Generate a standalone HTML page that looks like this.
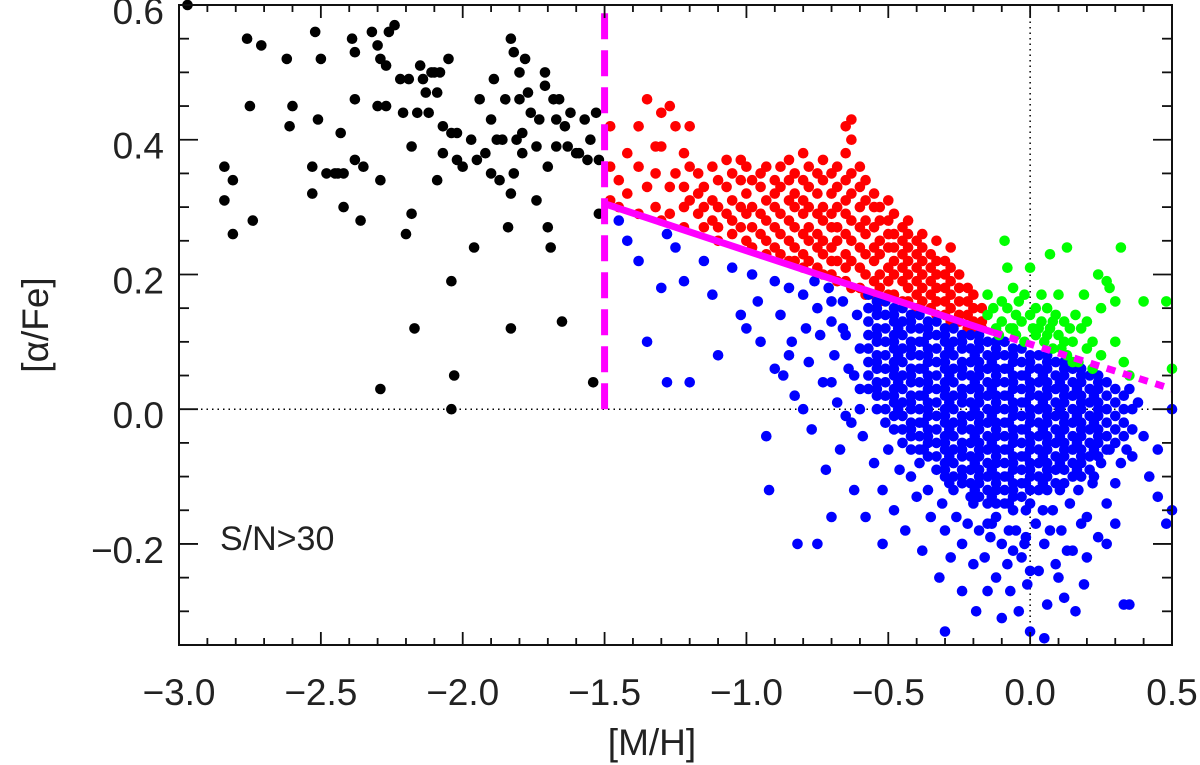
<!DOCTYPE html>
<html><head><meta charset="utf-8"><style>
html,body{margin:0;padding:0;background:#fff;}
svg{display:block;font-family:"Liberation Sans",sans-serif;}
</style></head><body>
<svg id="chart" width="1200" height="765" viewBox="0 0 1200 765" xmlns="http://www.w3.org/2000/svg">
<g id="grid"></g>
<g id="points"></g>
<g id="fit"></g>
<g id="axes"></g>
<text x="220" y="550" font-size="34" fill="#222">S/N&gt;30</text>
<text x="652" y="755" font-size="37" fill="#222" text-anchor="middle">[M/H]</text>
<text transform="translate(48,325) rotate(-90)" font-size="37" fill="#222" text-anchor="middle">[α/Fe]</text>
</svg>
<script>
const xTicks=[-3.0,-2.5,-2.0,-1.5,-1.0,-0.5,0.0,0.5];
const xTickLabels=["−3.0","−2.5","−2.0","−1.5","−1.0","−0.5","0.0","0.5"];
const yTicks=[-0.2,0.0,0.2,0.4,0.6];
const yTickLabels=["−0.2","0.0","0.2","0.4","0.6"];
const cutX=[-1.5,-1.5];
const cutY=[0.0,0.6];
const lineX=[-1.5,-0.13,0.5];
const lineY=[0.305,0.114,0.03];
const blackPts=[[-2.97,.60],[-2.84,.31],[-2.84,.36],[-2.81,.34],[-2.81,.26],[-2.76,.55],[-2.75,.45],[-2.74,.28],[-2.71,.54],[-2.62,.52],[-2.61,.42],[-2.6,.45],[-2.52,.56],[-2.53,.36],[-2.53,.32],[-2.51,.43],[-2.5,.52],[-2.48,.35],[-2.45,.35],[-2.44,.35],[-2.43,.41],[-2.42,.30],[-2.42,.35],[-2.39,.55],[-2.38,.53],[-2.38,.46],[-2.38,.37],[-2.36,.28],[-2.35,.36],[-2.32,.56],[-2.3,.54],[-2.29,.52],[-2.3,.45],[-2.29,.34],[-2.29,.03],[-2.27,.51],[-2.27,.45],[-2.26,.56],[-2.24,.57],[-2.22,.49],[-2.21,.44],[-2.2,.26],[-2.19,.49],[-2.18,.39],[-2.18,.29],[-2.17,.12],[-2.16,.44],[-2.15,.51],[-2.14,.49],[-2.13,.47],[-2.12,.44],[-2.11,.50],[-2.1,.5],[-2.09,.47],[-2.09,.34],[-2.08,.5],[-2.07,.42],[-2.07,.38],[-2.05,.52],[-2.04,.41],[-2.04,.19],[-2.03,.05],[-2.04,0.0],[-2.02,.41],[-2.02,.37],[-2.0,.36],[-1.97,.40],[-1.96,.24],[-1.95,.37],[-1.94,.46],[-1.92,.38],[-1.9,.43],[-1.9,.35],[-1.89,.49],[-1.88,.4],[-1.87,.34],[-1.86,.4],[-1.85,.46],[-1.84,.27],[-1.83,.55],[-1.83,.12],[-1.83,.32],[-1.82,.53],[-1.82,.35],[-1.81,.4],[-1.80,.5],[-1.8,.46],[-1.79,.38],[-1.79,.41],[-1.78,.52],[-1.77,.47],[-1.76,.44],[-1.74,.39],[-1.74,.31],[-1.73,.43],[-1.71,.48],[-1.71,.50],[-1.70,.27],[-1.69,.24],[-1.7,.36],[-1.68,.46],[-1.67,.43],[-1.67,.39],[-1.66,.46],[-1.65,.13],[-1.64,.42],[-1.63,.39],[-1.62,.44],[-1.6,.38],[-1.59,.38],[-1.57,.43],[-1.56,.37],[-1.55,.4],[-1.54,.04],[-1.53,.44],[-1.52,.37],[-1.52,.29]];
const redCols=[[-1.48,[.42,.36,.31]],[-1.45,[.34,.30]],[-1.42,[.38,.32]],[-1.38,[.42,.36,.29]],[-1.35,[.46,.33]],[-1.32,[.39,.35,.30]],[-1.30,[.39,.44,.28]],[-1.27,[.45,.33,.29]],[-1.25,[.42,.35]],[-1.22,[.38,.33,.30,.27]],[-1.2,[.42,.36,.31]],[-1.17,[.35,.32,.29]],[-1.15,[.33,.30,.27]],[-1.12,[.36,.31,.28]],[-1.1,[.34,.30,.27,.25]],[-1.07,[.37,.33,.29]],[-1.05,[.35,.31,.28,.26]],[-1.02,[.37,.34,.30,.27]],[-1.0,[.36,.32,.29,.25]],[-0.98,[.34,.30,.27,.24]],[-0.95,[.35,.33,.29,.26]],[-0.93,[.36,.31,.28,.25,.23]],[-0.9,[.34,.32,.30,.27,.24]],[-0.88,[.36,.33,.29,.26,.23]],[-0.85,[.37,.34,.31,.28,.25,.22]],[-0.83,[.35,.32,.30,.27,.24,.22]],[-0.8,[.38,.34,.31,.29,.26,.23,.21]],[-0.78,[.36,.33,.30,.27,.25,.22]],[-0.75,[.35,.32,.29,.26,.24,.21]],[-0.73,[.37,.34,.30,.28,.25,.23,.20]],[-0.7,[.35,.32,.29,.27,.24,.22,.20]],[-0.68,[.36,.33,.30,.27,.25,.22,.19]],[-0.65,[.42,.38,.34,.31,.29,.26,.23,.21,.19]],[-0.63,[.43,.40,.35,.32,.28,.25,.22,.18]],[-0.6,[.36,.33,.30,.27,.24,.21,.18]],[-0.58,[.34,.31,.28,.26,.23,.20,.17]],[-0.55,[.32,.30,.27,.24,.22,.19,.17]],[-0.53,[.30,.28,.25,.23,.20,.18,.16]],[-0.5,[.31,.28,.26,.24,.21,.19,.17]],[-0.48,[.29,.26,.24,.22,.20,.17]],[-0.45,[.27,.25,.23,.21,.19,.16]],[-0.43,[.28,.26,.24,.22,.20,.18,.16]],[-0.4,[.25,.23,.21,.19,.17,.15]],[-0.38,[.26,.24,.22,.20,.18,.16]],[-0.35,[.23,.21,.19,.17,.15]],[-0.33,[.25,.22,.20,.18,.16,.14]],[-0.3,[.22,.20,.18,.16,.14]],[-0.28,[.24,.21,.19,.17,.15,.13]],[-0.25,[.20,.18,.16,.14,.13]],[-0.22,[.18,.16,.14,.12]],[-0.2,[.17,.15,.13,.12]],[-0.17,[.15,.13,.12]]];
const greenPts=[[-0.15,.17],[-0.15,.14],[-0.13,.15],[-0.12,.12],[-0.1,.16],[-0.1,.13],[-0.09,.25],[-0.08,.21],[-0.08,.15],[-0.07,.12],[-0.06,.18],[-0.05,.14],[-0.05,.11],[-0.03,.13],[-0.02,.10],[0,.21],[0,.14],[0.01,.12],[0.02,.15],[0.02,.11],[0.04,.13],[0.05,.10],[0.06,.15],[0.07,.12],[0.07,.23],[0.08,.09],[0.09,.14],[0.1,.11],[0.1,.17],[0.12,.13],[0.13,.08],[0.13,.24],[0.15,.10],[0.16,.14],[0.17,.07],[0.18,.12],[0.19,.17],[0.2,.09],[0.22,.06],[0.24,.20],[0.25,.15],[0.27,.19],[0.28,.18],[0.3,.10],[0.3,.16],[0.32,.24],[0.33,.07],[0.35,.05],[0.4,.16],[0.48,.16],[0.5,.06],[-0.02,.17],[0.04,.17],[0.12,.10],[-0.04,.16],[0.08,.13],[0.15,.07],[0.22,.10],[-0.11,.11],[0.03,.12],[0.11,.09],[0.06,.11],[-0.06,.12],[0.14,.12],[0.2,.13],[0.25,.08]];
const blueCols=[[-0.57,[.17,.15,.13,.11,.09,.07,.05,.03]],[-0.54,[.16,.14,.12,.10,.08,.06,.04,.02,0,.15,.11,.07,.03]],[-0.51,[.16,.14,.12,.10,.08,.06,.04,.02,0,-.02]],[-0.48,[.15,.13,.11,.09,.07,.05,.03,.01,-.01,-.03,.14,.10,.06,.02]],[-0.465,[.12,.08,.04,0]],[-0.45,[.15,.13,.11,.09,.07,.05,.03,.01,-.01,-.03,-.05]],[-0.42,[.14,.12,.10,.08,.06,.04,.02,0,-.02,-.04,-.06,.13,.09,.05,.01,-.03]],[-0.39,[.14,.12,.10,.08,.06,.04,.02,0,-.02,-.04,-.06,-.08]],[-0.375,[.10,.06,.02,-.02,-.06]],[-0.36,[.13,.11,.09,.07,.05,.03,.01,-.01,-.03,-.05,-.07,.12,.08,.04,0,-.04]],[-0.33,[.13,.11,.09,.07,.05,.03,.01,-.01,-.03,-.05,-.07,-.09]],[-0.30,[.12,.10,.08,.06,.04,.02,0,-.02,-.04,-.06,-.08,-.10,.11,.07,.03,-.01,-.05,-.09]],[-0.285,[.09,.05,.01,-.03,-.07,-.11]],[-0.27,[.12,.10,.08,.06,.04,.02,0,-.02,-.04,-.06,-.08,-.10,-.12]],[-0.24,[.11,.09,.07,.05,.03,.01,-.01,-.03,-.05,-.07,-.09,-.11,.10,.06,.02,-.02,-.06,-.10]],[-0.21,[.11,.09,.07,.05,.03,.01,-.01,-.03,-.05,-.07,-.09,-.11,-.13]],[-0.195,[.08,.04,0,-.04,-.08,-.12]],[-0.18,[.11,.09,.07,.05,.03,.01,-.01,-.03,-.05,-.07,-.09,-.11,-.13,.10,.06,.02,-.02,-.06,-.10]],[-0.15,[.10,.08,.06,.04,.02,0,-.02,-.04,-.06,-.08,-.10,-.12,-.14]],[-0.135,[.07,.03,-.01,-.05,-.09,-.13,-.17]],[-0.12,[.10,.08,.06,.04,.02,0,-.02,-.04,-.06,-.08,-.10,-.12,-.14,-.16,.09,.05,.01,-.03,-.07,-.11]],[-0.09,[.10,.08,.06,.04,.02,0,-.02,-.04,-.06,-.08,-.10,-.12,-.14]],[-0.075,[.06,.02,-.02,-.06,-.10,-.14,-.18]],[-0.06,[.09,.07,.05,.03,.01,-.01,-.03,-.05,-.07,-.09,-.11,-.13,-.15,.08,.04,0,-.04,-.08,-.12]],[-0.03,[.09,.07,.05,.03,.01,-.01,-.03,-.05,-.07,-.09,-.11,-.13]],[-0.015,[.05,.01,-.03,-.07,-.11,-.15,-.19]],[0.00,[.08,.06,.04,.02,0,-.02,-.04,-.06,-.08,-.10,-.12,-.14,.07,.03,-.01,-.05,-.09]],[0.03,[.08,.06,.04,.02,0,-.02,-.04,-.06,-.08,-.10,-.12]],[0.045,[.05,.01,-.03,-.07,-.11,-.15]],[0.06,[.08,.06,.04,.02,0,-.02,-.04,-.06,-.08,-.10,-.12,.07,.03,-.01,-.05,-.09]],[0.09,[.07,.05,.03,.01,-.01,-.03,-.05,-.07,-.09,-.11]],[0.105,[.04,0,-.04,-.08,-.12]],[0.12,[.07,.05,.03,.01,-.01,-.03,-.05,-.07,-.09,-.11,.06,.02,-.02,-.06]],[0.15,[.06,.04,.02,0,-.02,-.04,-.06,-.08,-.10]],[0.165,[.03,-.01,-.05,-.09]],[0.18,[.06,.04,.02,0,-.02,-.04,-.06,-.08,-.10,.05,.01,-.03,-.07]],[0.21,[.05,.03,.01,-.01,-.03,-.05,-.07,-.09]],[0.225,[.02,-.02,-.06,-.10]],[0.24,[.05,.03,.01,-.01,-.03,-.05,-.07,.04,0,-.04]],[0.27,[.04,.02,0,-.02,-.04,-.06]],[0.30,[.03,.01,-.01,-.03,-.05]],[0.33,[.02,0,-.02,-.04]]];
const bluePts=[[-1.45,.28],[-1.42,.25],[-1.38,.22],[-1.35,.10],[-1.3,.18],[-1.28,.26],[-1.25,.24],[-1.22,.19],[-1.28,.04],[-1.2,.04],[-1.15,.22],[-1.12,.17],[-1.1,.08],[-1.05,.21],[-1.02,.14],[-1.0,.12],[-0.98,.20],[-0.96,.16],[-0.95,.10],[-0.93,-.04],[-0.92,-.12],[-0.9,.19],[-0.88,.14],[-0.87,.05],[-0.85,.18],[-0.84,.10],[-0.83,.02],[-0.82,-.20],[-0.8,.17],[-0.79,.12],[-0.78,.07],[-0.77,-.03],[-0.76,.19],[-0.75,.15],[-0.74,.11],[-0.73,.04],[-0.72,-.09],[-0.71,.18],[-0.7,.13],[-0.69,.08],[-0.68,.01],[-0.67,-.06],[-0.66,.16],[-0.65,.11],[-0.64,.06],[-0.63,-.02],[-0.62,-.12],[-0.61,.14],[-0.6,.09],[-0.6,.03],[-0.59,-.04],[-0.58,-.16],[-0.55,-.08],[-0.52,-.20],[-0.52,-.12],[-0.5,-.06],[-0.48,-.15],[-0.46,-.09],[-0.44,-.18],[-0.42,-.10],[-0.4,-.13],[-0.38,-.21],[-0.36,-.12],[-0.35,-.16],[-0.32,-.25],[-0.31,-.14],[-0.3,-.18],[-0.28,-.22],[-0.26,-.16],[-0.24,-.2],[-0.24,-.27],[-0.22,-.17],[-0.2,-.23],[-0.19,-.3],[-0.18,-.18],[-0.16,-.22],[-0.15,-.27],[-0.14,-.19],[-0.12,-.25],[-0.1,-.2],[-0.1,-.31],[-0.08,-.23],[-0.07,-.27],[-0.05,-.18],[-0.04,-.3],[-0.03,-.22],[-0.01,-.26],[0,-.33],[0.02,-.17],[0.03,-.24],[0.05,-.2],[0.06,-.29],[0.08,-.15],[0.09,-.23],[0.11,-.18],[0.12,-.28],[0.14,-.14],[0.15,-.21],[0.17,-.12],[0.19,-.26],[0.2,-.16],[0.22,-.11],[0.24,-.19],[0.25,-.08],[0.27,-.14],[0.28,-.06],[0.3,-.11],[0.32,-.08],[0.34,-.06],[0.36,-.03],[0.38,.01],[0.4,-.04],[0.42,-.1],[0.45,-.13],[0.48,-.17],[0.5,-.15],[0.35,-.29],[0.33,-.29],[-0.3,-.33],[0.05,-.34],[-0.7,-.16],[-0.75,-.2],[0.45,-.06],[0.5,0.0],[0.36,-.07],[0.36,0.0],[0.35,.03],[-0.85,.08],[-0.9,.06],[-0.8,.0],[-0.7,.04],[-0.65,-.01],[-0.6,.0],[-0.62,.05],[-0.7,.16],[-0.66,.12],[-0.02,-.2],[0.0,-.24],[0.1,-.25],[0.13,-.21],[0.16,-.3],[0.2,-.22],[-0.06,-.21],[0.07,-.18],[0.18,-.17],[0.27,-.2],[0.3,-.17],[-0.2,-.14],[-0.15,-.17]];

const NS="http://www.w3.org/2000/svg";
const X0=179,X1=1172,Y0=645,Y1=5;
const xmin=-3.0,xmax=0.5,ymin=-0.35,ymax=0.6;
function sx(v){return X0+(v-xmin)/(xmax-xmin)*(X1-X0);}
function sy(v){return Y0-(v-ymin)/(ymax-ymin)*(Y0-Y1);}
function mk(tag,attrs,parent){const e=document.createElementNS(NS,tag);for(const k in attrs)e.setAttribute(k,attrs[k]);parent.appendChild(e);return e;}
const grid=document.getElementById('grid'),pts=document.getElementById('points'),fit=document.getElementById('fit'),axes=document.getElementById('axes');

let e=mk('line',{x1:X0,x2:X1,y1:sy(0),y2:sy(0),stroke:'#000','stroke-width':1.5,'stroke-dasharray':'1.5 4'},grid);


e=mk('line',{x1:sx(0),x2:sx(0),y1:Y1,y2:Y0,stroke:'#000','stroke-width':1.5,'stroke-dasharray':'1.5 4'},grid);



const R=5.3;
function dot(x,y,c,name){const d=mk('circle',{cx:sx(x).toFixed(1),cy:sy(y).toFixed(1),r:R,fill:c},pts);

}
blackPts.forEach(p=>dot(p[0],p[1],'#000','black-point'));
redCols.forEach(c=>c[1].forEach(y=>dot(c[0],y,'#ff0000','red-point')));
bluePts.forEach(p=>dot(p[0],p[1],'#0000ff','blue-point'));
blueCols.forEach(c=>c[1].forEach(y=>dot(c[0],y,'#0000ff','blue-point')));
greenPts.forEach(p=>dot(p[0],p[1],'#00ff00','green-point'));

e=mk('line',{x1:sx(cutX[0]),x2:sx(cutX[1]),y1:sy(cutY[0]),y2:sy(cutY[1]),stroke:'#ff00ff','stroke-width':7,'stroke-dasharray':'26 11'},fit);


e=mk('line',{x1:sx(lineX[0]),x2:sx(lineX[1]),y1:sy(lineY[0]),y2:sy(lineY[1]),stroke:'#ff00ff','stroke-width':7},fit);


e=mk('line',{x1:sx(lineX[1]),x2:sx(lineX[2]),y1:sy(lineY[1]),y2:sy(lineY[2]),stroke:'#ff00ff','stroke-width':7,'stroke-dasharray':'9 8'},fit);



e=mk('rect',{x:X0,y:Y1,width:X1-X0,height:Y0-Y1,fill:'none',stroke:'#111','stroke-width':2},axes);


for(let i=0;i<=35;i++){const v=xmin+i*0.1;const major=(i%5===0);const L=major?13:7;const x=sx(v);
 mk('line',{x1:x,x2:x,y1:Y0,y2:Y0-L,stroke:'#111','stroke-width':1.8},axes);
 mk('line',{x1:x,x2:x,y1:Y1,y2:Y1+L,stroke:'#111','stroke-width':1.8},axes);}
for(let i=0;i<=19;i++){const v=ymin+i*0.05;const major=Math.abs(Math.round(v*100)%20)===0;const L=major?19:10;const y=sy(v);
 mk('line',{x1:X0,x2:X0+L,y1:y,y2:y,stroke:'#111','stroke-width':1.8},axes);
 mk('line',{x1:X1,x2:X1-L,y1:y,y2:y,stroke:'#111','stroke-width':1.8},axes);}
xTicks.forEach((v,i)=>{const t=mk('text',{x:sx(v),y:705,'font-size':37,fill:'#222','text-anchor':'middle'},axes);t.textContent=xTickLabels[i];

});
yTicks.forEach((v,i)=>{const t=mk('text',{x:164,y:sy(v)+19,'font-size':37,fill:'#222','text-anchor':'end'},axes);t.textContent=yTickLabels[i];

});
</script>
</body></html>
